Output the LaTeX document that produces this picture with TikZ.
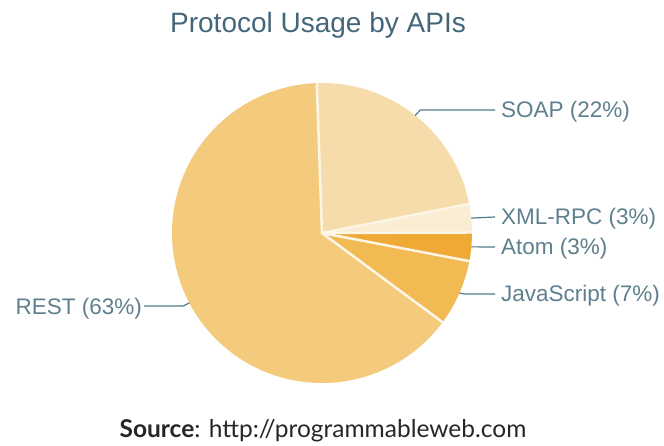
\documentclass[tikz,border=0pt]{standalone}
\usepackage{fontspec}
\setmainfont{Liberation Sans}
\newfontfamily\srcfont{Lato}
\usepackage{tikz}
\usetikzlibrary{calc}
\definecolor{restcol}{HTML}{F4CB7D}
\definecolor{soapcol}{HTML}{F6DCAA}
\definecolor{xmlcol}{HTML}{F9EDD3}
\definecolor{atomcol}{HTML}{EFA935}
\definecolor{jscol}{HTML}{F1BA52}
\definecolor{sepcol}{HTML}{FDF6E6}
\definecolor{leadcol}{HTML}{52798B}
\definecolor{labcol}{HTML}{5E7F8E}
\definecolor{titlecol}{HTML}{44667A}
\tikzset{
    sep/.style={draw=sepcol, line width=2.5pt, line cap=round},
    leader/.style={draw=leadcol, line width=1.2pt},
    pielabel/.style={text=labcol, font=\fontsize{22.5}{27}\selectfont, inner xsep=6pt, inner ysep=0pt, text height=16pt, text depth=0pt},
    titletext/.style={text=titlecol, font=\fontsize{28}{33}\selectfont, inner sep=0pt},
    srctext/.style={text=black!85, font=\srcfont\fontsize{24.5}{29}\selectfont, inner sep=0pt}
}

\begin{document}
\begin{tikzpicture}[x=1pt, y=1pt]
    \useasboundingbox (0,0) rectangle (664,445);
    \coordinate (C) at (322,212);
    % slices
    \fill[soapcol] (C) -- ($(C)+(92:150)$) arc[start angle=92, end angle=11.2, radius=150] -- cycle;
    \fill[xmlcol] (C) -- ($(C)+(11.2:150)$) arc[start angle=11.2, end angle=0.2, radius=150] -- cycle;
    \fill[atomcol] (C) -- ($(C)+(0.2:150)$) arc[start angle=0.2, end angle=-10.8, radius=150] -- cycle;
    \fill[jscol] (C) -- ($(C)+(-10.8:150)$) arc[start angle=-10.8, end angle=-36.5, radius=150] -- cycle;
    \fill[restcol] (C) -- ($(C)+(-36.5:150)$) arc[start angle=-36.5, end angle=-268, radius=150] -- cycle;
    \foreach \a in {92,11.2,0.2,-10.8,-36.5}
        \draw[sep] (C) -- ($(C)+(\a:150)$);
    % points on the rim
    \coordinate (soapPt) at ($(C)+(51.6:150)$);
    \coordinate (xmlPt) at ($(C)+(5.7:150)$);
    \coordinate (atomPt) at ($(C)+(-5.3:150)$);
    \coordinate (jsPt) at ($(C)+(-23.6:150)$);
    \coordinate (restPt) at ($(C)+(-152.2:150)$);
    % labels
    \node[titletext, anchor=base] (title) at (318,412) {Protocol Usage by APIs};
    \node[pielabel, anchor=west] (soap) at (495,335) {SOAP (22\%)};
    \node[pielabel, anchor=west] (xml) at (495,228) {XML-RPC (3\%)};
    \node[pielabel, anchor=west] (atom) at (495,198) {Atom (3\%)};
    \node[pielabel, anchor=west] (js) at (495,151) {JavaScript (7\%)};
    \node[pielabel, anchor=east, inner xsep=2pt] (rest) at (144,139) {REST (63\%)};
    \node[srctext, anchor=base] (src) at (323,8) {\textbf{Source}: http://programmableweb.com};
    % leaders
    \draw[leader] (soapPt) -- ([xshift=5pt]soapPt |- soap.west) -- (soap.west);
    \draw[leader] (xmlPt) -- (xml.west);
    \draw[leader] (atomPt) -- (atom.west);
    \draw[leader] (jsPt) -- ([xshift=5pt]jsPt |- js.west) -- (js.west);
    \draw[leader] (restPt) -- ([xshift=-6pt]restPt |- rest.east) -- (rest.east);
\end{tikzpicture}
\end{document}
